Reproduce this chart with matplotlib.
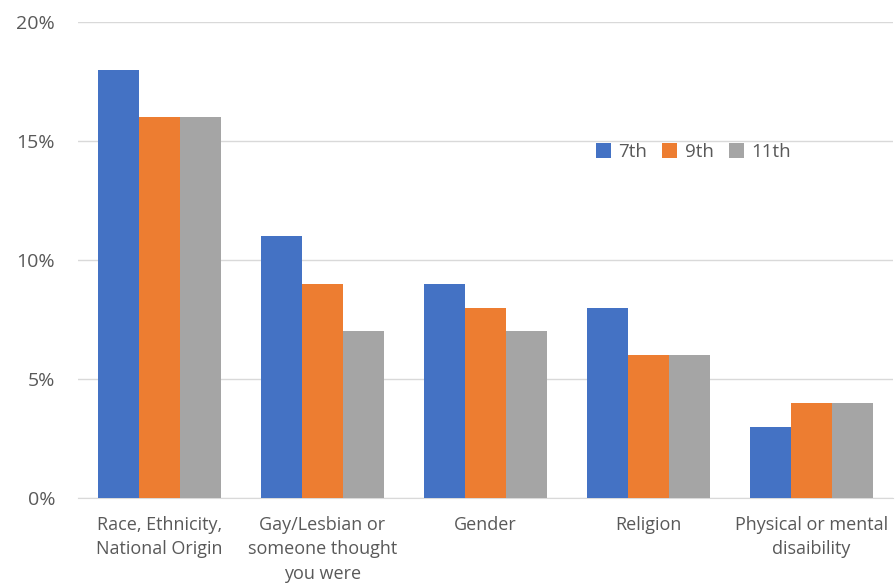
import matplotlib
matplotlib.use("Agg")
import matplotlib.pyplot as plt
import numpy as np
from matplotlib.ticker import FuncFormatter

categories = ["Race, Ethnicity,\nNational Origin", "Gay/Lesbian or\nsomeone thought\nyou were",
              "Gender", "Religion", "Physical or mental\ndisaibility"]
series_names = ["7th", "9th", "11th"]
grade7 = [18, 11, 9, 8, 3]
grade9 = [16, 9, 8, 6, 4]
grade11 = [16, 7, 7, 6, 4]
colors = ["#4472C4", "#ED7D31", "#A5A5A5"]

plt.rcParams['font.family'] = ['Open Sans', 'DejaVu Sans']

fig = plt.figure(figsize=(8.96, 5.86), dpi=100)
ax = fig.add_axes([0.087, 0.150, 0.9097, 0.8125])

x = np.arange(len(categories))
w = 0.25
for i, (vals, name, c) in enumerate(zip([grade7, grade9, grade11], series_names, colors)):
    ax.bar(x + (i - 1) * w, vals, width=w, color=c, label=name, zorder=3)

ax.set_xlim(-0.5, len(categories) - 0.5)
ax.set_ylim(0, 20)
ax.set_yticks([0, 5, 10, 15, 20])
ax.yaxis.set_major_formatter(FuncFormatter(lambda v, p: f"{v:.0f}%"))
ax.grid(axis='y', color='#D9D9D9', linewidth=1, zorder=0)
for s in ['top', 'right', 'left']:
    ax.spines[s].set_visible(False)
ax.spines['bottom'].set_color('#D9D9D9')
ax.tick_params(axis='both', length=0, colors='#595959')
ax.tick_params(axis='y', pad=16.5, labelsize=14)
ax.tick_params(axis='x', pad=13, labelsize=13)
ax.set_xticks(x)
ax.set_xticklabels(categories, color='#595959', linespacing=1.45, va='top')

ax.legend(loc='center', bbox_to_anchor=(0.755, 0.727), ncol=3, frameon=False,
          fontsize=13.5, handlelength=0.8, handleheight=0.8, handletextpad=0.4,
          columnspacing=0.8, labelcolor='#595959')

fig.savefig("out.png", dpi=100)
